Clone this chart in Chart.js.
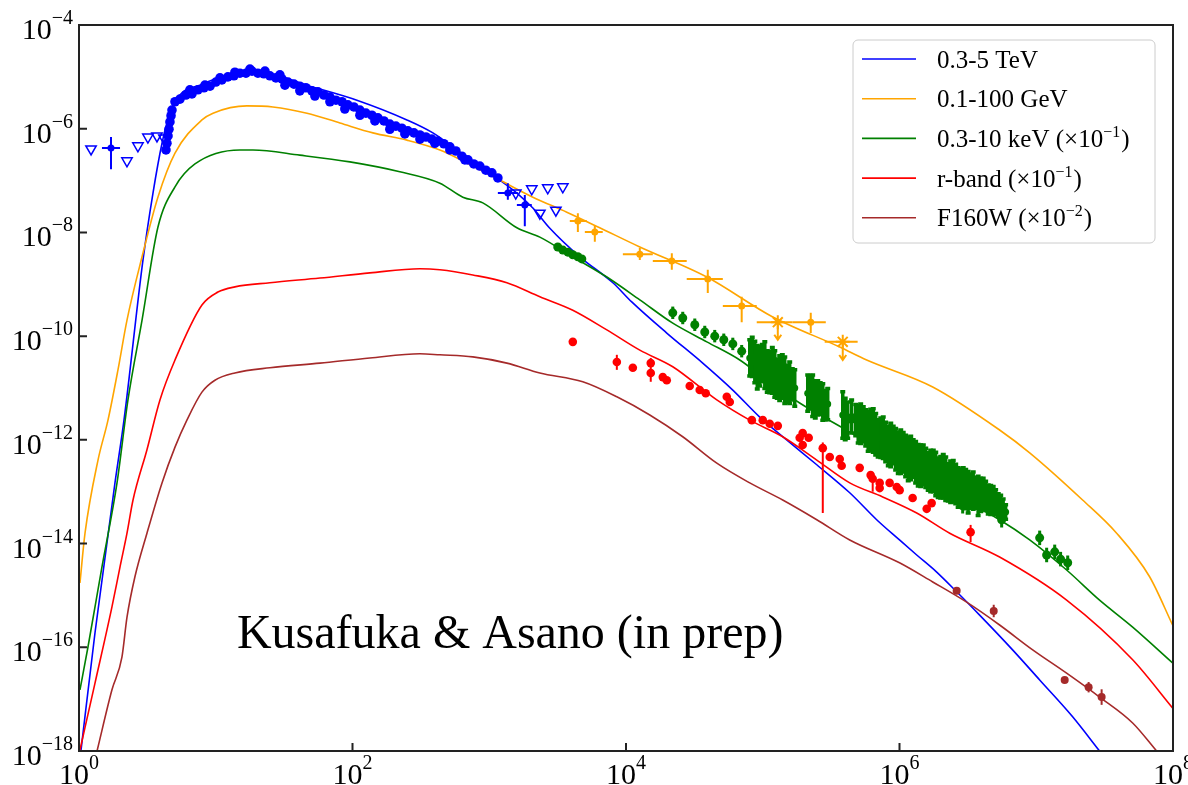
<!DOCTYPE html>
<html>
<head>
<meta charset="utf-8">
<script src="https://cdn.jsdelivr.net/npm/chart.js@4.4.1/dist/chart.umd.min.js"></script>
<style>
  html, body { margin: 0; padding: 0; background: #fff; }
  #wrap { width: 1188px; height: 785px; position: relative; }
</style>
</head>
<body>
<div id="wrap"><canvas id="sed"></canvas></div>
<script>
/* light curves, all values stored as log10 (time, flux) */

// ── model curves ──────────────────────────────────────────────────────────
const tevLineT = [0.015,0.117,0.263,0.329,0.468,0.541,0.607,0.65,0.738,0.884,1.067,1.25,1.433,1.667,2.032,2.398,2.588,2.836,3.056,3.202,3.319,3.443,3.662,3.904,4.042,4.298,4.561,4.781,4.978,5.175,5.395,5.636,5.833,6.0,6.126,6.272,6.418,6.586,6.827,7.025,7.266,7.463];
const tevLineF = [-17.98,-15.72,-12.83,-11.62,-8.53,-7.24,-6.28,-5.83,-5.35,-5.16,-4.98,-4.91,-4.96,-5.16,-5.45,-5.83,-6.08,-6.55,-6.95,-7.24,-7.53,-7.92,-8.47,-8.97,-9.34,-9.94,-10.52,-11.04,-11.56,-12.0,-12.48,-13.02,-13.54,-13.93,-14.22,-14.55,-14.93,-15.38,-16.05,-16.63,-17.34,-18.0];

const gevLineT = [0.007,0.044,0.139,0.212,0.285,0.351,0.461,0.577,0.702,0.899,0.98,1.228,1.418,1.667,1.908,2.149,2.398,2.639,2.836,3.077,3.319,3.567,3.808,4.101,4.591,5.073,5.563,5.76,6.243,6.732,6.952,7.339,7.588,7.829,7.997];
const gevLineF = [-14.76,-13.80,-12.39,-11.62,-10.65,-9.69,-8.47,-7.32,-6.47,-5.83,-5.70,-5.56,-5.58,-5.70,-5.89,-6.08,-6.22,-6.41,-6.66,-6.99,-7.32,-7.61,-7.91,-8.28,-8.86,-9.63,-10.21,-10.46,-10.98,-11.81,-12.25,-13.16,-13.80,-14.64,-15.57];

const xrayLineT = [0.007,0.066,0.168,0.278,0.358,0.461,0.577,0.702,0.848,1.177,1.272,1.615,1.981,2.346,2.639,2.807,2.953,3.202,3.37,3.611,3.86,4.101,4.342,4.591,4.832,5.029,5.27,5.636,6.0,6.367,6.732,6.952,7.222,7.463,7.705,7.997];
const xrayLineF = [-16.82,-15.99,-14.45,-12.83,-11.23,-9.69,-7.90,-7.12,-6.68,-6.41,-6.41,-6.51,-6.64,-6.83,-7.05,-7.32,-7.43,-7.91,-8.09,-8.47,-8.86,-9.30,-9.75,-10.11,-10.46,-10.85,-11.29,-11.85,-12.45,-13.02,-13.54,-13.93,-14.51,-15.09,-15.61,-16.30];

const rLineT = [0.007,0.117,0.241,0.30,0.351,0.395,0.497,0.592,0.702,0.899,1.016,1.14,1.396,1.762,2.127,2.493,2.639,2.88,3.129,3.37,3.611,3.86,4.101,4.342,4.664,4.905,5.146,5.395,5.636,5.877,6.126,6.367,6.732,7.222,7.705,7.997];
const rLineF = [-17.98,-16.69,-15.22,-14.45,-13.80,-13.16,-12.19,-11.23,-10.46,-9.40,-9.15,-9.05,-8.97,-8.88,-8.78,-8.70,-8.72,-8.82,-8.97,-9.24,-9.50,-9.88,-10.27,-10.59,-11.23,-11.62,-11.94,-12.39,-12.83,-13.10,-13.41,-13.80,-14.26,-15.09,-16.24,-17.17];

const hstLineT = [0.132,0.241,0.314,0.351,0.409,0.497,0.607,0.702,0.789,0.899,0.994,1.14,1.396,1.762,2.127,2.493,2.639,2.88,3.129,3.37,3.684,3.933,4.174,4.415,4.664,4.905,5.146,5.395,5.636,6.0,6.243,6.491,6.732,6.974,7.222,7.463,7.705,7.88];
const hstLineF = [-18.0,-16.82,-16.19,-15.42,-14.64,-13.80,-12.83,-12.14,-11.62,-11.08,-10.85,-10.71,-10.61,-10.52,-10.42,-10.34,-10.36,-10.40,-10.52,-10.71,-10.88,-11.17,-11.52,-11.94,-12.45,-12.83,-13.16,-13.54,-13.93,-14.37,-14.74,-15.13,-15.57,-16.05,-16.50,-16.96,-17.46,-18.0];

// ── observed data ─────────────────────────────────────────────────────────
const tevDataT = [0.636,0.643,0.651,0.658,0.665,0.673,0.680,0.702,0.738,0.782,0.826,0.870,0.914,0.958,1.001,1.045,1.089,1.133,1.177,1.221,1.265,1.308,1.352,1.396,1.440,1.484,1.528,1.572,1.615,1.659,1.703,1.747,1.791,1.835,1.879,1.923,1.966,2.010,2.054,2.098,2.142,2.186,2.230,2.273,2.317,2.361,2.405,2.449,2.493,2.537,2.580,2.624,2.668,2.712,2.756,2.800,2.844,2.887,2.931,2.975,3.019,3.063,
  1.506,1.615,1.725,1.835,1.944,2.054,2.164,2.273,2.383,2.493,2.602,2.712,2.822,0.811,0.921,1.031,1.14,1.25,1.36,1.469];
const tevDataF = [-6.41,-6.28,-6.14,-6.01,-5.87,-5.75,-5.64,-5.48,-5.43,-5.35,-5.33,-5.25,-5.21,-5.18,-5.10,-5.06,-5.00,-4.98,-4.93,-4.93,-4.89,-4.93,-4.94,-4.98,-5.02,-5.04,-5.10,-5.14,-5.18,-5.21,-5.27,-5.29,-5.35,-5.39,-5.45,-5.48,-5.54,-5.58,-5.64,-5.70,-5.74,-5.79,-5.85,-5.91,-5.95,-5.99,-6.04,-6.08,-6.12,-6.16,-6.20,-6.24,-6.29,-6.35,-6.43,-6.53,-6.60,-6.68,-6.72,-6.80,-6.85,-6.95,
  -5.16,-5.27,-5.37,-5.48,-5.62,-5.74,-5.85,-6.01,-6.10,-6.20,-6.28,-6.41,-6.60,-5.25,-5.16,-5.02,-4.91,-4.85,-4.89,-4.96];

const tevUlT = [0.088,0.351,0.431,0.504,0.570,0.621,3.194,3.311,3.428,3.538,3.37,3.487];
const tevUlF = [-6.39,-6.62,-6.33,-6.16,-6.14,-6.18,-7.24,-7.16,-7.14,-7.12,-7.63,-7.57];

const tevErrT   = [0.234,3.136,3.26];
const tevErrF   = [-6.37,-7.24,-7.47];
const tevErrTlo = [0.168,3.063,3.202];
const tevErrThi = [0.30,3.209,3.311];
const tevErrFlo = [-6.78,-7.37,-7.88];
const tevErrFhi = [-6.16,-7.05,-7.28];

const gevT   = [3.648,3.772,4.101,4.335,4.598,4.846,5.110,5.351,5.585];
const gevF   = [-7.78,-7.99,-8.42,-8.55,-8.90,-9.42,-9.73,-9.73,-10.11];
const gevTlo = [3.589,3.699,3.977,4.196,4.444,4.708,4.956,5.219,5.453];
const gevThi = [3.713,3.830,4.196,4.444,4.708,4.956,5.219,5.461,5.694];
const gevFlo = [-7.99,-8.18,-8.53,-8.72,-9.17,-9.73,-10.07,-9.94,-10.46];
const gevFhi = [-7.63,-7.86,-8.30,-8.40,-8.72,-9.24,-9.73,-9.55,-10.11];
const gevUL  = [0,0,0,0,0,0,1,0,1];

const xrayPtT = [3.501,3.538,3.575,3.611,3.648,3.677,4.342,4.415,4.503,4.576,4.649,4.715,4.781,4.846,6.462,6.747,7.025,7.076,7.135,7.178,7.230];
const xrayPtF = [-8.28,-8.34,-8.38,-8.43,-8.47,-8.51,-9.55,-9.65,-9.78,-9.92,-10.00,-10.07,-10.15,-10.29,-13.27,-13.54,-13.89,-14.22,-14.16,-14.30,-14.37];
const xrayPtE = [0.06,0.06,0.06,0.06,0.06,0.06,0.12,0.12,0.12,0.12,0.12,0.12,0.12,0.12,0.15,0.15,0.14,0.14,0.14,0.14,0.14];

const xrayBandT = [4.905,4.942,4.978,5.015,5.051,5.088,5.124,5.161,5.197,5.234,5.329,5.365,5.402,5.439,5.475,5.585,5.621,5.680,5.716,5.753,5.789,5.826,5.863,5.899,5.936,5.972,6.009,6.045,6.082,6.118,6.155,6.192,6.228,6.265,6.301,6.338,6.374,6.411,6.447,6.484,6.520,6.557,6.594,6.630,6.667,6.703,6.740,6.776,
  4.923,4.960,4.997,5.033,5.070,5.106,5.143,5.179,5.216,5.347,5.384,5.420,5.457,5.603,5.650,5.698,5.735,5.771,5.808,5.844,5.881,5.918,5.954,5.991,6.027,6.064,6.100,6.137,6.174,6.210,6.247,6.283,6.320,6.356,6.393,6.429,6.466,6.502,6.539,6.575,6.612,6.649,6.685,6.722,6.758];
const xrayBandF = [-10.42,-10.50,-10.58,-10.56,-10.69,-10.73,-10.81,-10.85,-10.90,-11.00,-11.10,-11.15,-11.19,-11.27,-11.31,-11.52,-11.62,-11.62,-11.69,-11.77,-11.81,-11.89,-11.96,-12.04,-12.10,-12.18,-12.23,-12.31,-12.35,-12.43,-12.50,-12.54,-12.60,-12.66,-12.72,-12.75,-12.81,-12.85,-12.91,-12.95,-12.99,-13.02,-13.06,-13.08,-13.16,-13.20,-13.27,-13.39,
  -10.40,-10.60,-10.52,-10.68,-10.66,-10.82,-10.78,-10.92,-10.93,-11.08,-11.22,-11.20,-11.33,-11.60,-11.55,-11.70,-11.70,-11.84,-11.82,-11.97,-11.96,-12.12,-12.10,-12.25,-12.24,-12.37,-12.36,-12.49,-12.48,-12.61,-12.60,-12.73,-12.70,-12.82,-12.80,-12.92,-12.90,-13.01,-12.98,-13.08,-13.04,-13.15,-13.16,-13.26,-13.30];
const xrayBandE = [0.35,0.40,0.38,0.45,0.40,0.45,0.43,0.45,0.40,0.35,0.35,0.40,0.33,0.35,0.30,0.45,0.35,0.30,0.38,0.35,0.40,0.40,0.38,0.38,0.42,0.40,0.42,0.40,0.42,0.40,0.40,0.38,0.40,0.42,0.40,0.42,0.40,0.38,0.35,0.38,0.33,0.30,0.32,0.28,0.28,0.24,0.20,0.14,
  0.38,0.42,0.36,0.40,0.44,0.38,0.42,0.36,0.30,0.32,0.36,0.30,0.28,0.40,0.32,0.36,0.34,0.38,0.42,0.36,0.40,0.38,0.36,0.40,0.38,0.42,0.36,0.40,0.38,0.36,0.40,0.38,0.42,0.36,0.40,0.38,0.36,0.40,0.36,0.38,0.30,0.28,0.26,0.22,0.16];

const rT = [3.611,3.933,4.050,4.181,4.181,4.269,4.298,4.466,4.539,4.583,4.737,4.759,4.920,5.0,5.051,5.110,5.270,5.292,5.336,5.292,5.439,5.490,5.563,5.577,5.709,5.789,5.804,5.855,5.855,5.928,5.980,6.001,6.096,6.199,6.235,6.520];
const rF = [-10.11,-10.50,-10.61,-10.52,-10.71,-10.79,-10.85,-10.96,-11.04,-11.10,-11.17,-11.27,-11.62,-11.62,-11.69,-11.73,-11.96,-11.87,-11.96,-12.10,-12.16,-12.33,-12.37,-12.50,-12.54,-12.68,-12.75,-12.83,-12.93,-12.83,-12.91,-12.97,-13.12,-13.33,-13.22,-13.78];
const rEl = [0.05,0.15,0.05,0.36,0.05,0.05,0.05,0.05,0.05,0.05,0.05,0.05,0.05,0.05,0.05,0.05,0.05,0.05,0.05,0.05,1.25,0.05,0.05,0.05,0.05,0.05,0.25,0.05,0.05,0.05,0.05,0.05,0.05,0.05,0.05,0.19];
const rEh = [0.05,0.14,0.05,0.10,0.05,0.05,0.05,0.05,0.05,0.05,0.05,0.05,0.05,0.05,0.05,0.05,0.05,0.05,0.05,0.05,0.11,0.05,0.05,0.05,0.05,0.05,0.05,0.05,0.05,0.05,0.05,0.05,0.05,0.05,0.05,0.14];

const hstT = [6.418,6.689,7.208,7.383,7.478];
const hstF = [-14.91,-15.30,-16.63,-16.77,-16.96];
const hstE = [0.03,0.12,0.03,0.10,0.15];

const xTickExp = [0, 2, 4, 6, 8];
const yTickExp = [-4, -6, -8, -10, -12, -14, -16, -18];

const legendItems = [
    { color: '#0000ff', parts: ['0.3-5 TeV'] },
    { color: '#ffa500', parts: ['0.1-100 GeV'] },
    { color: '#008000', parts: ['0.3-10 keV (\u00d710', '\u22121', ')'] },
    { color: '#ff0000', parts: ['r-band (\u00d710', '\u22121', ')'] },
    { color: '#a52a2a', parts: ['F160W (\u00d710', '\u22122', ')'] }
];
const credit = 'Kusafuka & Asano (in prep)';

// ── helpers ───────────────────────────────────────────────────────────────
const SERIF = '"Liberation Serif", "Times New Roman", serif';
const p10 = v => Math.pow(10, v);
const pts = (lx, ly) => lx.map((v, i) => ({ x: p10(v), y: p10(ly[i]) }));

const lineSet = (lx, ly, color) => ({
    data: pts(lx, ly), showLine: true, pointRadius: 0, borderColor: color,
    borderWidth: 1.6, fill: false, cubicInterpolationMode: 'monotone'
});

// symmetric flux error bars in log units
const symErr = (ly, e) => ly.map((v, i) => ({ ylo: p10(v - e[i]), yhi: p10(v + e[i]) }));

// ── error bar plugin ──────────────────────────────────────────────────────
const errorBars = {
    id: 'errorBars',
    beforeDatasetDraw(chart, args) {
        const ds = chart.data.datasets[args.index];
        if (!ds.errs) return;
        const { ctx, chartArea: a } = chart;
        const xs = chart.scales.x, ys = chart.scales.y;
        ctx.save();
        ctx.beginPath();
        ctx.rect(a.left, a.top, a.right - a.left, a.bottom - a.top);
        ctx.clip();
        ctx.strokeStyle = ds.borderColor;
        ctx.lineWidth = ds.errWidth || 2;
        ds.errs.forEach((e, i) => {
            const p = ds.data[i];
            const px = xs.getPixelForValue(p.x), py = ys.getPixelForValue(p.y);
            ctx.beginPath();
            if (e.xlo != null) {
                ctx.moveTo(xs.getPixelForValue(e.xlo), py);
                ctx.lineTo(xs.getPixelForValue(e.xhi), py);
            }
            if (e.ylo != null) {
                const y1 = ys.getPixelForValue(e.ylo), y2 = ys.getPixelForValue(e.yhi);
                ctx.moveTo(px, y1);
                ctx.lineTo(px, y2);
                if (ds.capW) {
                    ctx.moveTo(px - ds.capW, y1); ctx.lineTo(px + ds.capW, y1);
                    ctx.moveTo(px - ds.capW, y2); ctx.lineTo(px + ds.capW, y2);
                }
                if (e.ul) {
                    ctx.moveTo(px - 3.5, y1 - 5); ctx.lineTo(px, y1); ctx.lineTo(px + 3.5, y1 - 5);
                }
            }
            ctx.stroke();
        });
        ctx.restore();
    }
};

// ── axes, labels, legend ──────────────────────────────────────────────────
function supText(ctx, base, sup, x, y, align, size, supSize, rise) {
    ctx.font = size + 'px ' + SERIF;
    const wb = ctx.measureText(base).width;
    ctx.font = supSize + 'px ' + SERIF;
    const ws = ctx.measureText(sup).width;
    let x0 = x;
    if (align === 'right') x0 = x - wb - ws;
    else if (align === 'center') x0 = x - (wb + ws) / 2;
    ctx.textAlign = 'left';
    ctx.textBaseline = 'alphabetic';
    ctx.font = size + 'px ' + SERIF;
    ctx.fillText(base, x0, y);
    ctx.font = supSize + 'px ' + SERIF;
    ctx.fillText(sup, x0 + wb, y - rise);
    return x0 + wb + ws;
}

const frame = {
    id: 'frame',
    afterDraw(chart) {
        const { ctx, chartArea: a } = chart;
        const xs = chart.scales.x, ys = chart.scales.y;
        ctx.save();
        ctx.fillStyle = '#000';

        // credit line
        ctx.font = '48px ' + SERIF;
        ctx.textAlign = 'left';
        ctx.textBaseline = 'alphabetic';
        ctx.fillText(credit, xs.getPixelForValue(p10(1.155)), ys.getPixelForValue(p10(-16.01)));

        // spines
        ctx.strokeStyle = '#222';
        ctx.lineWidth = 2;
        ctx.strokeRect(a.left, a.top, a.right - a.left, a.bottom - a.top);

        // inward ticks + labels
        ctx.beginPath();
        xTickExp.forEach(k => {
            const px = xs.getPixelForValue(p10(k));
            ctx.moveTo(px, a.bottom); ctx.lineTo(px, a.bottom - 8);
        });
        yTickExp.forEach(k => {
            const py = ys.getPixelForValue(p10(k));
            ctx.moveTo(a.left, py); ctx.lineTo(a.left + 8, py);
        });
        ctx.stroke();

        xTickExp.forEach(k => {
            const px = xs.getPixelForValue(p10(k));
            supText(ctx, '10', String(k), px, a.bottom + 33, 'center', 30, 20, 15);
        });
        yTickExp.forEach(k => {
            const py = ys.getPixelForValue(p10(k));
            supText(ctx, '10', '\u2212' + Math.abs(k), a.left - 6, py + 14, 'right', 30, 20, 15);
        });

        // legend box
        const lx = 853, ly = 40, lw = 302, lh = 203, r = 5;
        ctx.beginPath();
        ctx.moveTo(lx + r, ly);
        ctx.arcTo(lx + lw, ly, lx + lw, ly + lh, r);
        ctx.arcTo(lx + lw, ly + lh, lx, ly + lh, r);
        ctx.arcTo(lx, ly + lh, lx, ly, r);
        ctx.arcTo(lx, ly, lx + lw, ly, r);
        ctx.closePath();
        ctx.fillStyle = 'rgba(255,255,255,0.85)';
        ctx.fill();
        ctx.strokeStyle = '#cccccc';
        ctx.lineWidth = 1;
        ctx.stroke();

        legendItems.forEach((it, i) => {
            const y = 59 + i * 39.7;
            ctx.strokeStyle = it.color;
            ctx.lineWidth = 1.6;
            ctx.beginPath(); ctx.moveTo(862, y); ctx.lineTo(916, y); ctx.stroke();
            ctx.fillStyle = '#000';
            let x = 937;
            const base = y + 8.5;
            if (it.parts.length === 1) {
                ctx.font = '25px ' + SERIF;
                ctx.fillText(it.parts[0], x, base);
            } else {
                x = supText(ctx, it.parts[0], it.parts[1], x, base, 'left', 25, 16, 10);
                ctx.font = '25px ' + SERIF;
                ctx.fillText(it.parts[2], x + 1, base);
            }
        });
        ctx.restore();
    }
};

// ── datasets ──────────────────────────────────────────────────────────────
const datasets = [
    // data points on top
    { data: pts(hstT, hstF), pointRadius: 4, backgroundColor: '#a52a2a', borderColor: '#a52a2a', borderWidth: 0,
      errs: symErr(hstF, hstE), errWidth: 2 },
    { data: pts(rT, rF), pointRadius: 4.3, backgroundColor: '#ff0000', borderColor: '#ff0000', borderWidth: 0,
      errs: rF.map((v, i) => ({ ylo: p10(v - rEl[i]), yhi: p10(v + rEh[i]) })), errWidth: 2 },
    { data: pts(xrayPtT, xrayPtF), pointRadius: 4.5, backgroundColor: '#008000', borderColor: '#008000', borderWidth: 0,
      errs: symErr(xrayPtF, xrayPtE), errWidth: 3 },
    { data: pts(xrayBandT, xrayBandF), pointRadius: 3.5, backgroundColor: '#008000', borderColor: '#008000', borderWidth: 0,
      errs: symErr(xrayBandF, xrayBandE), errWidth: 3.5, capW: 2.5 },
    { data: pts(gevT, gevF), pointRadius: gevUL.map(u => u ? 7 : 3.5),
      pointStyle: gevUL.map(u => u ? 'star' : 'circle'),
      backgroundColor: '#ffa500', borderColor: '#ffa500', borderWidth: gevUL.map(u => u ? 2 : 0),
      errs: gevT.map((v, i) => ({ xlo: p10(gevTlo[i]), xhi: p10(gevThi[i]),
                                 ylo: p10(gevFlo[i]), yhi: p10(gevFhi[i]), ul: !!gevUL[i] })), errWidth: 2 },
    { data: pts(tevErrT, tevErrF), pointRadius: 3.5, backgroundColor: '#0000ff', borderColor: '#0000ff', borderWidth: 0,
      errs: tevErrT.map((v, i) => ({ xlo: p10(tevErrTlo[i]), xhi: p10(tevErrThi[i]),
                                    ylo: p10(tevErrFlo[i]), yhi: p10(tevErrFhi[i]) })), errWidth: 2 },
    { data: pts(tevUlT, tevUlF), pointRadius: 6, pointStyle: 'triangle', rotation: 180,
      backgroundColor: 'rgba(255,255,255,0)', borderColor: '#0000ff', borderWidth: 1.5 },
    { data: pts(tevDataT, tevDataF), pointRadius: 4.8, backgroundColor: '#0000ff', borderColor: '#3333ff', borderWidth: 0 },
    // model curves
    lineSet(hstLineT, hstLineF, '#a52a2a'),
    lineSet(rLineT, rLineF, '#ff0000'),
    lineSet(xrayLineT, xrayLineF, '#008000'),
    lineSet(gevLineT, gevLineF, '#ffa500'),
    lineSet(tevLineT, tevLineF, '#0000ff')
];

new Chart(document.getElementById('sed'), {
    type: 'scatter',
    data: { datasets },
    options: {
        responsive: true,
        maintainAspectRatio: false,
        animation: false,
        events: [],
        layout: { padding: { left: 79, right: 15, top: 25, bottom: 34 } },
        plugins: { legend: { display: false }, tooltip: { enabled: false } },
        scales: {
            x: { type: 'logarithmic', min: 1, max: 1e8, display: false },
            y: { type: 'logarithmic', min: 1e-18, max: 1e-4, display: false }
        }
    },
    plugins: [errorBars, frame]
});
</script>
</body>
</html>
